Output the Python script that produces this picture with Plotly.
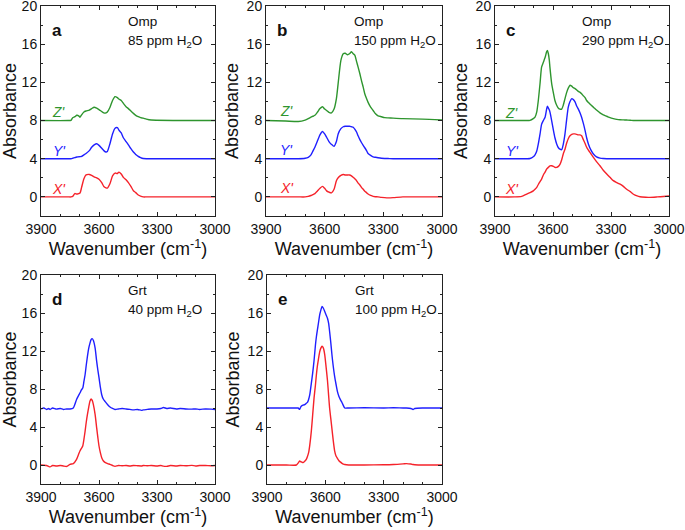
import plotly.graph_objects as go

# ---------------- data ----------------
# Panel a (Omp, 85 ppm H2O)
wn_a = [3900, 3760, 3745, 3736, 3725, 3715, 3705, 3698, 3690, 3678, 3667, 3650, 3638, 3625, 3612,
        3600, 3586, 3575, 3564, 3557, 3543, 3530, 3517, 3505, 3497, 3485, 3474, 3460, 3448, 3435,
        3422, 3410, 3397, 3385, 3371, 3355, 3330, 3000]
a_X = [0, 0, 0, 0.05, 0.35, 0.3, 0.35, 0.4, 1.0, 1.9, 2.3, 2.35, 2.25, 2.1, 2.0,
       1.85, 1.5, 1.1, 0.95, 0.92, 1.4, 2.2, 2.5, 2.45, 2.6, 2.4, 2.05, 1.8, 1.5, 1.1,
       0.65, 0.45, 0.2, 0.08, 0.0, 0, 0, 0]
a_Y = [0, 0, 0, 0.05, 0.12, 0.18, 0.2, 0.22, 0.25, 0.4, 0.55, 0.85, 1.2, 1.45, 1.57,
       1.4, 1.1, 0.85, 0.7, 0.75, 1.6, 2.6, 3.2, 3.25, 3.0, 2.7, 2.2, 1.8, 1.45, 1.05,
       0.7, 0.45, 0.25, 0.12, 0.02, 0, 0, 0]
a_Z = [0, 0, 0.02, 0.3, 0.4, 0.55, 0.5, 0.35, 0.6, 0.9, 1.0, 1.1, 1.25, 1.4, 1.3,
       1.15, 0.95, 0.8, 0.8, 0.9, 1.4, 2.1, 2.5, 2.4, 2.25, 2.1, 1.8, 1.45, 1.25, 1.0,
       0.75, 0.55, 0.4, 0.3, 0.25, 0.15, 0.05, 0]

# Panel b (Omp, 150 ppm H2O)
wn_b = [3900, 3800, 3735, 3700, 3684, 3670, 3660, 3650, 3638, 3624, 3611, 3600, 3590, 3578, 3565,
        3552, 3540, 3531, 3517, 3505, 3495, 3483, 3473, 3463, 3454, 3446, 3437, 3429, 3420, 3412,
        3403, 3395, 3386, 3378, 3365, 3352, 3340, 3327, 3310, 3293, 3276, 3250, 3200, 3100, 3000]
b_X = [0, 0, 0, 0, 0.05, 0.15, 0.25, 0.35, 0.6, 0.9, 1.1, 0.9, 0.63, 0.5, 0.42,
       0.8, 1.7, 2.0, 2.25, 2.35, 2.3, 2.3, 2.3, 2.2, 2.05, 1.9, 1.7, 1.45, 1.25, 1.0,
       0.8, 0.6, 0.45, 0.3, 0.15, 0.05, 0.02, 0, -0.05, -0.08, -0.1, -0.08, 0, 0, 0]
b_Y = [0, 0, 0, 0.05, 0.15, 0.4, 0.8, 1.2, 1.8, 2.5, 2.85, 2.6, 2.25, 1.8, 1.5,
       1.3, 1.8, 2.6, 3.15, 3.35, 3.4, 3.4, 3.4, 3.35, 3.3, 3.1, 2.8, 2.4, 2.0, 1.7,
       1.4, 1.15, 0.85, 0.55, 0.35, 0.2, 0.15, 0.1, 0.05, 0.03, 0.02, 0, 0, 0, 0]
b_Z = [0, -0.05, -0.1, 0.05, 0.2, 0.35, 0.45, 0.55, 0.85, 1.25, 1.45, 1.2, 1.05, 0.85, 0.8,
       1.2, 2.3, 3.9, 6.3, 7.0, 7.05, 6.9, 7.0, 7.2, 7.0, 6.85, 6.2, 5.6, 4.9, 4.2,
       3.5, 2.8, 2.3, 1.9, 1.4, 1.05, 0.7, 0.5, 0.4, 0.3, 0.28, 0.25, 0.2, 0.15, 0.05]

# Panel c (Omp, 290 ppm H2O)
wn_c = [3900, 3800, 3762, 3736, 3719, 3702, 3693, 3684, 3676, 3667, 3659, 3650, 3641, 3633, 3629,
        3624, 3619, 3616, 3607, 3598, 3590, 3581, 3572, 3564, 3555, 3547, 3538, 3530, 3521, 3512,
        3503, 3495, 3486, 3477, 3469, 3460, 3452, 3443, 3434, 3426, 3417, 3405, 3391, 3375, 3357,
        3340, 3322, 3305, 3288, 3270, 3253, 3236, 3219, 3200, 3184, 3165, 3150, 3120, 3098, 3060,
        3029, 3000]
c_X = [0, 0, 0.05, 0.3, 0.45, 0.63, 0.8, 1.0, 1.3, 1.6, 1.86, 2.3, 2.6, 2.9, 3.0,
       3.1, 3.2, 3.25, 3.26, 3.2, 3.1, 3.1, 3.2, 3.4, 3.9, 4.5, 5.0, 5.6, 6.1, 6.4,
       6.55, 6.6, 6.6, 6.55, 6.5, 6.5, 6.4, 6.0, 5.6, 5.2, 4.9, 4.55, 4.14, 3.7, 3.26,
       2.8, 2.4, 2.05, 1.7, 1.5, 1.33, 1.1, 0.8, 0.55, 0.28, 0.1, 0.02, -0.03, -0.05, 0,
       0.05, 0.1]
c_Y = [0, 0, 0, 0, 0.02, 0.2, 0.4, 0.8, 1.55, 2.6, 3.6, 4.0, 4.35, 5.2, 5.5,
       5.3, 5.1, 4.9, 4.0, 3.0, 2.2, 1.55, 1.15, 1.0, 0.95, 1.5, 2.6, 4.0, 5.4, 6.0,
       6.3, 6.2, 5.95, 5.5, 5.2, 4.8, 4.35, 3.7, 2.95, 2.2, 1.55, 0.95, 0.5, 0.2, 0.07,
       0.02, 0, 0, 0, 0, 0, 0, 0, 0, 0, 0, 0, 0, 0, 0,
       0, 0]
c_Z = [0, 0, 0, 0, 0.02, 0.2, 0.35, 0.9, 2.1, 3.9, 5.6, 6.1, 6.6, 7.2, 7.35,
       7.0, 6.3, 5.6, 3.9, 2.9, 2.1, 1.6, 1.3, 1.2, 1.2, 1.6, 2.3, 2.9, 3.4, 3.7,
       3.6, 3.45, 3.35, 3.2, 3.05, 2.95, 2.8, 2.6, 2.4, 2.1, 1.9, 1.65, 1.4, 1.1, 0.8,
       0.6, 0.45, 0.3, 0.2, 0.12, 0.08, 0.07, 0.05, 0.03, 0, 0, 0, 0, 0, 0,
       0, 0]

# Panel d (Grt, 40 ppm H2O)
wn_d = [3900, 3885, 3871, 3860, 3853, 3840, 3820, 3800, 3785, 3767, 3750, 3733, 3716, 3706, 3698,
        3691, 3684, 3678, 3672, 3666, 3660, 3653, 3647, 3641, 3635, 3629, 3620, 3612, 3606, 3600,
        3593, 3586, 3578, 3569, 3555, 3543, 3530, 3517, 3500, 3480, 3460, 3440, 3422, 3400, 3380,
        3371, 3350, 3330, 3300, 3280, 3267, 3250, 3230, 3200, 3180, 3150, 3120, 3100, 3080, 3050,
        3020, 3000]
d_1 = [0, -0.02, -0.05, -0.15, -0.2, -0.05, -0.1, -0.05, -0.1, -0.15, 0.07, 0.15, 0.6, 1.1, 1.5,
       1.75, 2.0, 2.7, 3.55, 4.5, 5.3, 6.1, 6.7, 6.95, 6.8, 6.35, 5.3, 3.9, 2.9, 2.0,
       1.3, 0.77, 0.45, 0.28, 0.15, 0.07, -0.05, -0.14, -0.05, -0.08, -0.05, -0.1, -0.05, -0.08, -0.1,
       -0.05, -0.08, -0.05, -0.1, -0.05, -0.12, -0.14, -0.06, -0.1, -0.05, -0.08, -0.04, -0.1, -0.06, -0.05,
       -0.08, -0.05]
d_2 = [-0.1, 0.0, -0.15, -0.05, -0.15, 0.0, -0.12, -0.05, -0.15, -0.1, -0.1, 0.0, 0.9, 1.3, 1.6,
       1.9, 2.1, 2.8, 3.5, 4.5, 5.4, 6.3, 6.8, 7.2, 7.3, 7.1, 6.3, 4.9, 4.0, 3.2,
       2.2, 1.4, 0.95, 0.7, 0.35, 0.1, -0.05, -0.15, -0.1, -0.05, -0.1, -0.15, -0.2, -0.15, -0.25,
       -0.2, -0.15, -0.1, -0.1, -0.05, 0.05, -0.05, 0.0, -0.1, -0.05, -0.1, -0.12, -0.1, -0.15, -0.1,
       -0.12, -0.15]

# Panel e (Grt, 100 ppm H2O)
wn_e = [3900, 3800, 3749, 3740, 3732, 3727, 3720, 3715, 3706, 3698, 3692, 3686, 3680, 3672, 3665,
        3658, 3651, 3646, 3641, 3635, 3629, 3623, 3617, 3610, 3603, 3596, 3589, 3583, 3578, 3572,
        3566, 3560, 3552, 3545, 3538, 3530, 3522, 3514, 3507, 3500, 3480, 3400, 3300, 3250, 3200,
        3183, 3160, 3149, 3140, 3100, 3000]
e_1 = [0, 0, 0.0, 0.2, 0.42, 0.35, 0.3, 0.25, 0.4, 0.6, 0.9, 1.3, 2.1, 3.57, 5.3,
       7.06, 8.4, 9.5, 10.4, 11.2, 11.9, 12.3, 12.5, 12.3, 11.6, 10.3, 8.9, 7.3, 6.0, 4.9,
       3.8, 2.7, 1.47, 0.95, 0.7, 0.45, 0.3, 0.18, 0.1, 0.05, 0, 0, 0.02, 0.05, 0.12,
       0.15, 0.1, 0.05, 0.03, 0, 0]
e_2 = [0, 0, 0, 0, -0.15, 0.1, 0.25, 0.3, 0.35, 0.5, 0.6, 0.9, 1.4, 2.6, 3.7,
       5.0, 6.6, 7.5, 8.2, 9.0, 9.8, 10.3, 10.7, 10.5, 10.15, 9.8, 9.45, 8.9, 8.05, 6.9,
       5.6, 4.5, 3.3, 2.5, 1.75, 1.2, 0.85, 0.55, 0.25, 0, 0, 0.02, 0, 0.02, 0,
       0, -0.05, -0.15, -0.05, 0, 0]

omp_offsets = [0, 4, 8]          # X', Y', Z'
grt_offsets = [0, 6]
series_labels = ["X'", "Y'", "Z'"]
panel_letters = ["a", "b", "c", "d", "e"]
panel_minerals = ["Omp", "Omp", "Omp", "Grt", "Grt"]
panel_water = ["85", "150", "290", "40", "100"]
label_wn = [3805, 3793, 3810]
label_lift = [0.85, 0.95, 0.8]

x_ticks = [3900, 3600, 3300, 3000]
y_ticks = [0, 4, 8, 12, 16, 20]

# ---------------- styling ----------------
RED = "#f5222a"
BLUE = "#1f1fff"
GREEN = "#2e952e"
omp_colors = [RED, BLUE, GREEN]
grt_colors = [RED, BLUE]
FONT = "Arial, Liberation Sans, sans-serif"
W, H = 685, 530

# pixel boxes of each panel in the window: (left, right, top, bottom)
boxes = [(41, 215, 6, 216), (266, 442, 6, 216), (495, 669, 6, 216),
         (41, 215, 275, 484), (267, 442, 275, 484)]

fig = go.Figure()

panels = [
    (wn_a, [a_X, a_Y, a_Z], omp_offsets, omp_colors),
    (wn_b, [b_X, b_Y, b_Z], omp_offsets, omp_colors),
    (wn_c, [c_X, c_Y, c_Z], omp_offsets, omp_colors),
    (wn_d, [d_1, d_2], grt_offsets, grt_colors),
    (wn_e, [e_1, e_2], grt_offsets, grt_colors),
]

annotations = []
for i, (wn, series, offs, cols) in enumerate(panels):
    n = i + 1
    xa = "x" if n == 1 else f"x{n}"
    ya = "y" if n == 1 else f"y{n}"
    for s, off, col in zip(series, offs, cols):
        fig.add_trace(go.Scatter(x=wn, y=[v + off for v in s], mode="lines",
                                 line=dict(color=col, width=1.4, shape="spline", smoothing=0.6),
                                 xaxis=xa, yaxis=ya, showlegend=False, hoverinfo="skip"))
    l, r, t, b = boxes[i]
    axis_common = dict(showline=True, linecolor="#222", linewidth=1, mirror="allticks",
                       ticks="inside", ticklen=4, tickwidth=1, tickcolor="#222",
                       showgrid=False, zeroline=False, automargin=False,
                       ticklabeloverflow="allow",
                       tickfont=dict(family=FONT, size=14, color="#111"))
    fig.layout[f"xaxis{'' if n == 1 else n}"] = dict(
        axis_common, domain=[l / W, r / W], anchor=ya, range=[3900, 3000],
        tickvals=x_ticks, ticktext=[str(v) for v in x_ticks],
        minor=dict(dtick=100, tick0=3000, ticks="inside", ticklen=2, tickcolor="#222"),
        title=dict(text="Wavenumber (cm<sup>-1</sup>)", font=dict(family=FONT, size=18, color="#111"),
                   standoff=6))
    fig.layout[f"yaxis{'' if n == 1 else n}"] = dict(
        axis_common, domain=[1 - b / H, 1 - t / H], anchor=xa, range=[-2, 20],
        tickvals=y_ticks,
        minor=dict(dtick=2, tick0=0, ticks="inside", ticklen=2, tickcolor="#222"),
        title=dict(text="Absorbance", font=dict(family=FONT, size=18, color="#111"), standoff=3))
    # panel letter
    annotations.append(dict(xref=f"{xa} domain", yref=f"{ya} domain", x=0.09, y=0.885,
                            text=f"<b>{panel_letters[i]}</b>", showarrow=False,
                            font=dict(family=FONT, size=17, color="#111"), xanchor="center", yanchor="middle"))
    annotations.append(dict(xref=f"{xa} domain", yref=f"{ya} domain", x=0.49, y=0.925,
                            text=panel_minerals[i], showarrow=False,
                            font=dict(family=FONT, size=13.5, color="#111"), xanchor="left", yanchor="middle"))
    annotations.append(dict(xref=f"{xa} domain", yref=f"{ya} domain", x=0.49, y=0.83,
                            text=f"{panel_water[i]} ppm H<sub>2</sub>O", showarrow=False,
                            font=dict(family=FONT, size=13.5, color="#111"), xanchor="left", yanchor="middle"))
    if len(series) == 3:
        for lab, off, col in zip(series_labels, offs, cols):
            annotations.append(dict(xref=xa, yref=ya, x=label_wn[i], y=off + label_lift[i],
                                    text=f"<i>{lab}</i>", showarrow=False,
                                    font=dict(family=FONT, size=14, color=col),
                                    xanchor="center", yanchor="middle"))

fig.update_layout(width=W, height=H, margin=dict(l=0, r=0, t=0, b=0),
                  paper_bgcolor="white", plot_bgcolor="white",
                  annotations=annotations, font=dict(family=FONT))

fig.write_html("out.html", config={"displayModeBar": False},
               post_script="document.body.style.margin='0px';")
